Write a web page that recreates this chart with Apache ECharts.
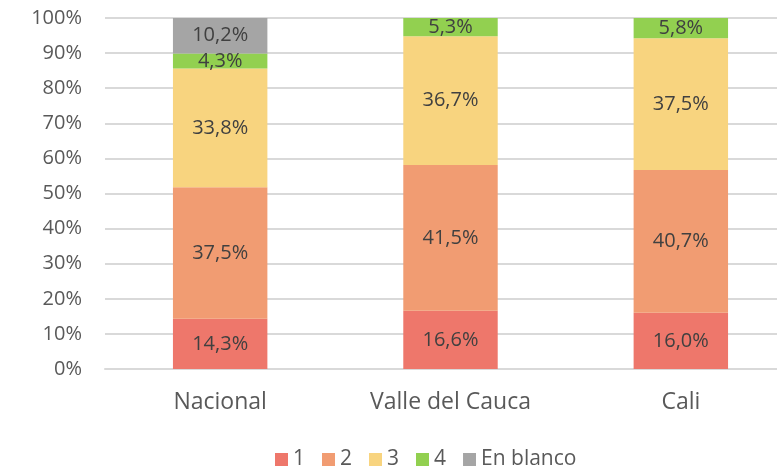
<!DOCTYPE html>
<html>
<head>
<meta charset="utf-8">
<script src="https://cdn.jsdelivr.net/npm/echarts@6/dist/echarts.min.js"></script>
<style>
html,body{margin:0;padding:0;background:#fff;overflow:hidden;}
#main{width:796px;height:466px;}
</style>
</head>
<body>
<div id="main"></div>
<script>
// categorias y valores (%)
var categorias = ['Nacional', 'Valle del Cauca', 'Cali'];
var nombres = ['1', '2', '3', '4', 'En blanco'];
var v1 = [14.3, 16.6, 16.0];
var v2 = [37.5, 41.5, 40.7];
var v3 = [33.8, 36.7, 37.5];
var v4 = [4.3, 5.3, 5.8];
var vBlanco = [10.2, null, null];
var colores = ['#EE776B', '#F19C72', '#F8D47F', '#92D050', '#A5A5A5'];

// el grafico original esta recortado a la derecha, por eso el div es mas ancho que la ventana
var myChart = echarts.init(document.getElementById('main'));
var datos = [v1, v2, v3, v4, vBlanco];
var fuente = 'Open Sans, sans-serif';

var series = [];
for (var i = 0; i < nombres.length; i++) {
	series.push({
		name: nombres[i],
		type: 'bar',
		stack: 'total',
		barWidth: '41%',
		itemStyle: {color: colores[i]},
		label: {
			show: true,
			position: 'inside',
			color: '#404040',
			fontSize: 20,
			fontFamily: fuente,
			formatter: function (p) {
				return p.value == null ? '' : p.value.toFixed(1).replace('.', ',') + '%';
			}
		},
		data: datos[i]
	});
}

var option = {
	animation: false,
	grid: {left: 105, right: 0, top: 18, bottom: 97},
	legend: {
		top: 444,
		left: 270,
		itemWidth: 13,
		itemHeight: 13,
		itemGap: 17,
		icon: 'rect',
		textStyle: {color: '#595959', fontSize: 21, fontFamily: fuente},
		data: nombres
	},
	xAxis: {
		type: 'category',
		data: categorias,
		axisTick: {show: false},
		axisLine: {lineStyle: {color: '#D9D9D9', width: 2}},
		axisLabel: {color: '#595959', fontSize: 23, fontFamily: fuente, margin: 22}
	},
	yAxis: {
		type: 'value',
		min: 0,
		max: 100,
		interval: 10,
		axisLine: {show: false},
		axisTick: {show: false},
		splitLine: {lineStyle: {color: '#D9D9D9', width: 2}},
		axisLabel: {
			color: '#595959', fontSize: 20, fontFamily: fuente, margin: 23,
			formatter: '{value}%'
		}
	},
	series: series
};
myChart.setOption(option);
</script>
</body>
</html>
